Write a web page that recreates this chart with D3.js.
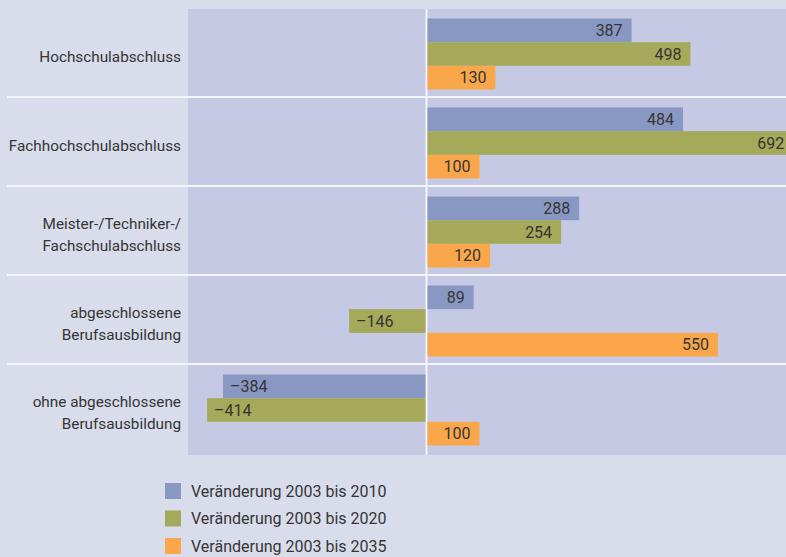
<!DOCTYPE html>
<html>
<head>
<meta charset="utf-8">
<style>
body { margin: 0; background: #d9dcea; }
svg { display: block; }
text { font-family: Roboto, "Open Sans", sans-serif; font-size: 16px; fill: #353535; }
text.cat { font-size: 15.3px; }
</style>
<script src="https://cdn.jsdelivr.net/npm/d3@7"></script>
</head>
<body>
<svg id="chart" width="786" height="557"></svg>
<script>

// categories (line breaks as in the original labels)
var categories = [
  "Hochschulabschluss",
  "Fachhochschulabschluss",
  "Meister-/Techniker-/\nFachschulabschluss",
  "abgeschlossene\nBerufsausbildung",
  "ohne abgeschlossene\nBerufsausbildung"
];

var seriesNames = [
  "Veränderung 2003 bis 2010",
  "Veränderung 2003 bis 2020",
  "Veränderung 2003 bis 2035"
];

var values2010 = [387, 484, 288, 89, -384];
var values2020 = [498, 692, 254, -146, -414];
var values2035 = [130, 100, 120, 550, 100];

var seriesColors = ["#8898c2", "#a5a95a", "#f9a74a"];

var allValues = [values2010, values2020, values2035];

var W = 786, H = 557;
var svg = d3.select("#chart");

var x = d3.scaleLinear().domain([-450, 700]).range([188, 797.5]);

var y0 = d3.scaleBand().domain(d3.range(categories.length)).range([9, 454]);
var y1 = d3.scaleBand().domain(d3.range(seriesNames.length)).range([9.5, 80.5]);

// plot background
svg.append("rect")
  .attr("x", x(-450)).attr("y", y0.range()[0])
  .attr("width", W - x(-450)).attr("height", y0.range()[1] - y0.range()[0] + 1)
  .attr("fill", "#c5c9e3");

// group separators
categories.forEach(function(c, i) {
  if (i == 0) return;
  svg.append("line")
    .attr("x1", 7).attr("x2", W)
    .attr("y1", y0(i) - 1).attr("y2", y0(i) - 1)
    .attr("stroke", "#f4f5fa").attr("stroke-width", 2);
});

// zero line
svg.append("line")
  .attr("x1", x(0)).attr("x2", x(0))
  .attr("y1", y0.range()[0]).attr("y2", y0.range()[1] + 1)
  .attr("stroke", "#f4f5fa").attr("stroke-width", 2);

function fmt(v) {
  return v < 0 ? "\u2013" + Math.abs(v) : String(v);
}

// bars
allValues.forEach(function(vals, s) {
  var g = svg.append("g");
  vals.forEach(function(v, i) {
    var yy = y0(i) + y1(s);
    var x0 = v >= 0 ? x(0) + 1 : x(v);
    var x1 = v >= 0 ? x(v) : x(0) - 1;
    g.append("rect")
      .attr("x", x0).attr("y", yy)
      .attr("width", x1 - x0).attr("height", y1.bandwidth())
      .attr("fill", seriesColors[s]);
    g.append("text")
      .attr("x", v >= 0 ? x(v) - 9 : x(v) + 7)
      .attr("y", yy + y1.bandwidth() / 2)
      .attr("dy", "0.36em")
      .attr("text-anchor", v >= 0 ? "end" : "start")
      .text(fmt(v));
  });
});

// category labels
categories.forEach(function(c, i) {
  var lines = c.split("\n");
  var cy = y0(i) + y0.bandwidth() / 2 + 2.5;
  var t = svg.append("text")
    .attr("class", "cat")
    .attr("text-anchor", "end");
  lines.forEach(function(l, k) {
    t.append("tspan")
      .attr("x", 181)
      .attr("y", cy + (k - (lines.length - 1) / 2) * 22)
      .attr("dy", "0.36em")
      .text(l);
  });
});

// legend
var legend = svg.append("g");
seriesNames.forEach(function(n, s) {
  var ly = 491 + s * 27.5;
  legend.append("rect")
    .attr("x", 165).attr("y", ly - 8)
    .attr("width", 16).attr("height", 16)
    .attr("fill", seriesColors[s]);
  legend.append("text")
    .attr("x", 191).attr("y", ly)
    .attr("dy", "0.36em")
    .text(n);
});

</script>
</body>
</html>
